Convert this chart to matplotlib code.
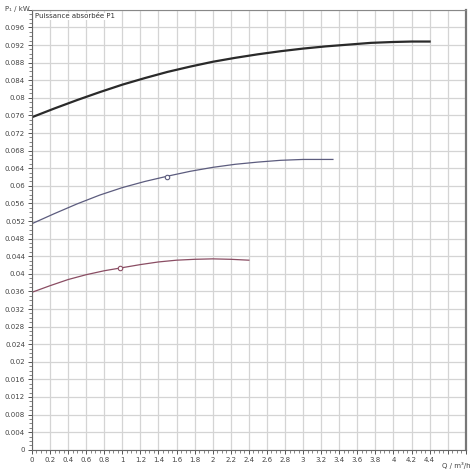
import matplotlib
matplotlib.use("Agg")
import matplotlib.pyplot as plt
from matplotlib.ticker import MultipleLocator

# Data
q_black = [0.0, 0.25, 0.5, 0.75, 1.0, 1.25, 1.5, 1.75, 2.0, 2.25, 2.5, 2.75, 3.0, 3.25, 3.5, 3.75, 4.0, 4.2, 4.4]
p_black = [0.0756, 0.0776, 0.0795, 0.0813, 0.0830, 0.0845, 0.0859, 0.0871, 0.0882, 0.0891,
           0.0899, 0.0906, 0.0912, 0.0917, 0.0921, 0.0925, 0.0927, 0.0928, 0.0928]

q_blue = [0.0, 0.25, 0.5, 0.75, 1.0, 1.25, 1.5, 1.75, 2.0, 2.25, 2.5, 2.75, 3.0, 3.33]
p_blue = [0.0514, 0.0537, 0.0559, 0.0579, 0.0596, 0.0610, 0.0622, 0.0633, 0.0642, 0.0649,
          0.0654, 0.0658, 0.0660, 0.0660]

q_red = [0.0, 0.2, 0.4, 0.6, 0.8, 1.0, 1.2, 1.4, 1.6, 1.8, 2.0, 2.2, 2.4]
p_red = [0.0358, 0.0373, 0.0387, 0.0398, 0.0407, 0.0414, 0.0421, 0.0427, 0.0431, 0.0433,
         0.0434, 0.0433, 0.0431]

op_blue = (1.49, 0.0621)
op_red = (0.97, 0.0413)

x_tick_values = [round(0.2 * i, 1) for i in range(25)]
y_tick_values = [round(0.004 * i, 3) for i in range(26)]
x_tick_labels = ["%g" % v for v in x_tick_values[:23]] + ["", ""]
y_tick_labels = ["%g" % v for v in y_tick_values[:25]] + [""]

fig = plt.figure(figsize=(4.7, 4.7), dpi=100)
ax = fig.add_axes([0.068, 0.043, 0.923, 0.936])
ax.set_xlim(0, 4.8)
ax.set_ylim(0, 0.1)

ax.grid(True, color="#d4d4d4", linewidth=0.9)
ax.set_axisbelow(True)
ax.xaxis.set_minor_locator(MultipleLocator(0.05))
ax.yaxis.set_minor_locator(MultipleLocator(0.001))
ax.set_xticks(x_tick_values)
ax.set_yticks(y_tick_values)
ax.set_xticklabels(x_tick_labels)
ax.set_yticklabels(y_tick_labels)
ax.tick_params(axis="both", which="major", labelsize=5, colors="#555555", length=3, width=0.7, pad=2)
ax.tick_params(axis="both", which="minor", length=2, width=0.5, colors="#555555")
for lab in ax.get_xticklabels() + ax.get_yticklabels():
    lab.set_color("#444444")

for s in ["left", "bottom"]:
    ax.spines[s].set_color("#666666")
    ax.spines[s].set_linewidth(0.8)
ax.spines["top"].set_color("#888888")
ax.spines["top"].set_linewidth(0.8)
ax.spines["right"].set_color("#777777")
ax.spines["right"].set_linewidth(1.6)

ax.plot(q_black, p_black, color="#2a2a2a", linewidth=1.6, solid_joinstyle="round")
ax.plot(q_blue, p_blue, color="#5c5c7e", linewidth=0.9, solid_joinstyle="round")
ax.plot(q_red, p_red, color="#8a4d63", linewidth=0.9, solid_joinstyle="round")
ax.plot([op_blue[0]], [op_blue[1]], marker="o", markersize=3.2, markerfacecolor="white",
        markeredgecolor="#5c5c7e", markeredgewidth=0.8)
ax.plot([op_red[0]], [op_red[1]], marker="o", markersize=3.2, markerfacecolor="white",
        markeredgecolor="#8a4d63", markeredgewidth=0.8)

ax.text(0.035, 0.0992, "Puissance absorbée P1", fontsize=5, color="#333333", va="top", ha="left",
        bbox=dict(facecolor="white", edgecolor="none", pad=0.5))
ax.text(4.7, -0.0028, "Q / m³/h", fontsize=5, color="#444444", ha="center", va="top")
fig.text(5 / 470, 1 - 9 / 470, "P₁ / kW", fontsize=5, color="#444444", ha="left", va="center")

fig.savefig("out.png", dpi=100)
